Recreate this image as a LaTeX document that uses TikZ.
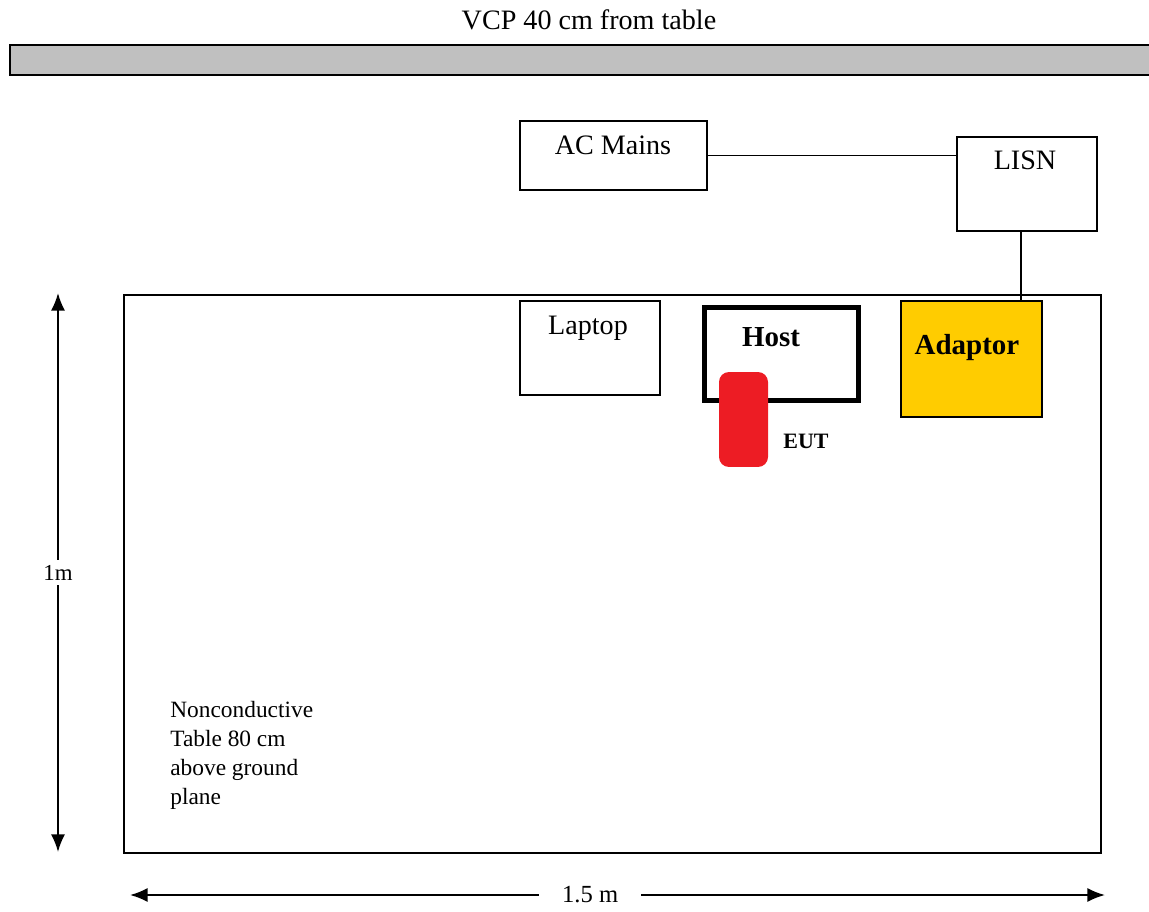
\documentclass[tikz,border=0pt]{standalone}
\usepackage{fontspec}
\setmainfont{Liberation Serif}
\usetikzlibrary{positioning,calc,arrows.meta}
\definecolor{vcpgray}{RGB}{192,192,192}
\definecolor{adaptoryellow}{RGB}{255,204,0}
\definecolor{eutred}{RGB}{237,28,36}

\begin{document}
\begin{tikzpicture}[x=0.02cm, y=-0.02cm]
        \tikzstyle{box}=[draw, line width=0.9pt, inner sep=0pt]
        \tikzstyle{txt}=[inner sep=0pt, font=\fontsize{16}{19}\selectfont]
        \tikzstyle{btxt}=[inner sep=0pt, font=\fontsize{16.5}{19}\selectfont\bfseries]
        \tikzstyle{dim}=[line width=1.1pt, {Latex[length=10pt,width=8pt]}-{Latex[length=10pt,width=8pt]}]

        \useasboundingbox (0,0) rectangle (1149,912);

        % Vertical coupling plane
        \node[txt] (vcplabel) at (589,20) {VCP 40 cm from table};
        \node[box, line width=1.5pt, fill=vcpgray, minimum width=22.9cm, minimum height=0.6cm] (vcp) at (582.5,60) {};

        % Mains and LISN
        \node[box, minimum width=3.74cm, minimum height=1.38cm] (acmains) at (613.5,155.5) {};
        \node[txt] at (613,145) {AC Mains};
        \node[box, minimum width=2.8cm, minimum height=1.88cm] (lisn) at (1027,184) {};
        \node[txt] at (1025,160) {LISN};

        % Table
        \node[box, line width=1.1pt, minimum width=19.54cm, minimum height=11.16cm] (table) at (612.5,574) {};

        % Equipment on the table
        \node[box, minimum width=2.8cm, minimum height=1.88cm] (laptop) at (590,348) {};
        \node[txt] at (588,328) {Laptop};
        \node[box, line width=2.8pt, minimum width=3.08cm, minimum height=1.86cm] (host) at (781.5,354) {};
        \node[btxt] at (771,337) {Host};
        \node[box, fill=adaptoryellow, minimum width=2.82cm, minimum height=2.32cm] (adaptor) at (971.5,359) {};
        \node[btxt] at (967,348) {Adaptor};
        \node[fill=eutred, rounded corners=0.2cm, inner sep=0pt, minimum width=0.98cm, minimum height=1.9cm] (eut) at (743.5,419.5) {};
        \node[inner sep=0pt, font=\fontsize{12.5}{15}\selectfont\bfseries] (eutlabel) at (806,441) {EUT};

        % Cables
        \draw[line width=0.9pt] (acmains.east) -- (acmains.east -| lisn.west);
        \coordinate (lisnout) at ($(lisn.south)+(-6,0)$);
        \draw[line width=0.9pt] (lisnout) -- (lisnout |- adaptor.north);

        % Table note
        \node[anchor=north west, inner sep=0pt, align=left, font=\fontsize{13.3}{16.4}\selectfont] (note) at (170,701)
            {Nonconductive\\Table 80 cm\\above ground\\plane};

        % Dimensions
        \coordinate (vtop) at (58,293);
        \coordinate (vbot) at (58,852);
        \draw[dim] (vbot) -- node[fill=white, inner sep=3pt, font=\fontsize{13}{15}\selectfont] {1m} (vtop);
        \coordinate (hleft) at (130,895);
        \coordinate (hright) at (1105,895);
        \draw[dim] (hleft) -- node[pos=0.472, fill=white, inner xsep=13pt, inner ysep=2pt, font=\fontsize{14}{16}\selectfont] {1.5 m} (hright);
\end{tikzpicture}
\end{document}
